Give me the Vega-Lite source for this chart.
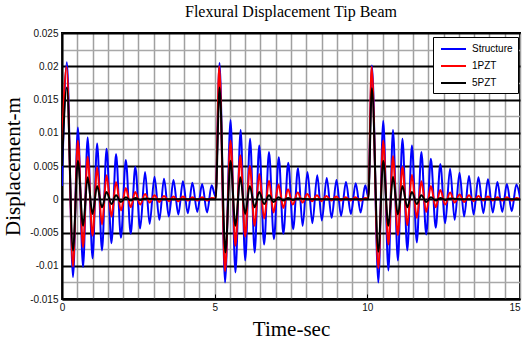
{
  "$schema": "https://vega.github.io/schema/vega-lite/v6.json",
  "width": 458,
  "height": 266,
  "autosize": {"type": "none"},
  "padding": {"left": 62, "top": 33, "right": 3, "bottom": 44},
  "background": "white",
  "title": {"text": "Flexural Displacement Tip Beam", "font": "Liberation Serif", "fontSize": 16, "fontWeight": "normal", "color": "black", "offset": 8, "anchor": "middle"},
  "config": {
    "view": {"stroke": "black", "strokeWidth": 2},
    "axis": {"labelFont": "Liberation Sans", "labelFontSize": 10, "labelColor": "#111", "titleFont": "Liberation Serif", "titleFontSize": 21, "titleFontWeight": "normal", "titleColor": "black", "labelFlush": false, "labelOverlap": false, "labelBound": false}
  },
  "data": {"values": [
    {"t":0.00,"v":0.0020,"s":"Structure"},{"t":0.16,"v":0.0206,"s":"Structure"},{"t":0.36,"v":-0.0117,"s":"Structure"},{"t":0.52,"v":0.0108,"s":"Structure"},{"t":0.69,"v":-0.0102,"s":"Structure"},{"t":0.84,"v":0.0093,"s":"Structure"},{"t":1.00,"v":-0.0089,"s":"Structure"},{"t":1.15,"v":0.0084,"s":"Structure"},{"t":1.31,"v":-0.0077,"s":"Structure"},{"t":1.46,"v":0.0076,"s":"Structure"},{"t":1.62,"v":-0.0066,"s":"Structure"},{"t":1.77,"v":0.0068,"s":"Structure"},{"t":1.93,"v":-0.0058,"s":"Structure"},{"t":2.09,"v":0.0059,"s":"Structure"},{"t":2.25,"v":-0.0052,"s":"Structure"},{"t":2.40,"v":0.0049,"s":"Structure"},{"t":2.56,"v":-0.0044,"s":"Structure"},{"t":2.72,"v":0.0041,"s":"Structure"},{"t":2.87,"v":-0.0037,"s":"Structure"},{"t":3.03,"v":0.0034,"s":"Structure"},{"t":3.19,"v":-0.0031,"s":"Structure"},{"t":3.34,"v":0.0031,"s":"Structure"},{"t":3.50,"v":-0.0026,"s":"Structure"},{"t":3.65,"v":0.0029,"s":"Structure"},{"t":3.81,"v":-0.0023,"s":"Structure"},{"t":3.96,"v":0.0027,"s":"Structure"},{"t":4.12,"v":-0.0021,"s":"Structure"},{"t":4.27,"v":0.0025,"s":"Structure"},{"t":4.43,"v":-0.0019,"s":"Structure"},{"t":4.59,"v":0.0023,"s":"Structure"},{"t":4.75,"v":-0.0020,"s":"Structure"},{"t":4.90,"v":0.0021,"s":"Structure"},{"t":5.03,"v":0.0004,"s":"Structure"},
    {"t":5.16,"v":0.0205,"s":"Structure"},{"t":5.34,"v":-0.0125,"s":"Structure"},{"t":5.52,"v":0.0119,"s":"Structure"},{"t":5.68,"v":-0.0110,"s":"Structure"},{"t":5.85,"v":0.0104,"s":"Structure"},{"t":6.00,"v":-0.0092,"s":"Structure"},{"t":6.16,"v":0.0091,"s":"Structure"},{"t":6.31,"v":-0.0080,"s":"Structure"},{"t":6.46,"v":0.0081,"s":"Structure"},{"t":6.62,"v":-0.0068,"s":"Structure"},{"t":6.78,"v":0.0071,"s":"Structure"},{"t":6.94,"v":-0.0060,"s":"Structure"},{"t":7.10,"v":0.0063,"s":"Structure"},{"t":7.25,"v":-0.0052,"s":"Structure"},{"t":7.41,"v":0.0055,"s":"Structure"},{"t":7.57,"v":-0.0045,"s":"Structure"},{"t":7.73,"v":0.0047,"s":"Structure"},{"t":7.88,"v":-0.0040,"s":"Structure"},{"t":8.04,"v":0.0041,"s":"Structure"},{"t":8.20,"v":-0.0036,"s":"Structure"},{"t":8.36,"v":0.0036,"s":"Structure"},{"t":8.51,"v":-0.0032,"s":"Structure"},{"t":8.67,"v":0.0032,"s":"Structure"},{"t":8.83,"v":-0.0028,"s":"Structure"},{"t":8.99,"v":0.0029,"s":"Structure"},{"t":9.14,"v":-0.0025,"s":"Structure"},{"t":9.30,"v":0.0026,"s":"Structure"},{"t":9.46,"v":-0.0022,"s":"Structure"},{"t":9.62,"v":0.0024,"s":"Structure"},{"t":9.78,"v":-0.0020,"s":"Structure"},{"t":9.93,"v":0.0021,"s":"Structure"},{"t":10.03,"v":0.0004,"s":"Structure"},
    {"t":10.15,"v":0.0201,"s":"Structure"},{"t":10.36,"v":-0.0125,"s":"Structure"},{"t":10.52,"v":0.0118,"s":"Structure"},{"t":10.69,"v":-0.0107,"s":"Structure"},{"t":10.84,"v":0.0104,"s":"Structure"},{"t":11.00,"v":-0.0092,"s":"Structure"},{"t":11.15,"v":0.0091,"s":"Structure"},{"t":11.31,"v":-0.0077,"s":"Structure"},{"t":11.46,"v":0.0081,"s":"Structure"},{"t":11.62,"v":-0.0065,"s":"Structure"},{"t":11.77,"v":0.0071,"s":"Structure"},{"t":11.93,"v":-0.0053,"s":"Structure"},{"t":12.08,"v":0.0061,"s":"Structure"},{"t":12.24,"v":-0.0043,"s":"Structure"},{"t":12.39,"v":0.0053,"s":"Structure"},{"t":12.55,"v":-0.0036,"s":"Structure"},{"t":12.71,"v":0.0046,"s":"Structure"},{"t":12.86,"v":-0.0031,"s":"Structure"},{"t":13.02,"v":0.0040,"s":"Structure"},{"t":13.17,"v":-0.0026,"s":"Structure"},{"t":13.33,"v":0.0035,"s":"Structure"},{"t":13.48,"v":-0.0023,"s":"Structure"},{"t":13.64,"v":0.0033,"s":"Structure"},{"t":13.80,"v":-0.0021,"s":"Structure"},{"t":13.95,"v":0.0030,"s":"Structure"},{"t":14.11,"v":-0.0020,"s":"Structure"},{"t":14.26,"v":0.0026,"s":"Structure"},{"t":14.42,"v":-0.0019,"s":"Structure"},{"t":14.57,"v":0.0023,"s":"Structure"},{"t":14.73,"v":-0.0018,"s":"Structure"},{"t":14.88,"v":0.0022,"s":"Structure"},{"t":15.00,"v":0.0003,"s":"Structure"},
    {"t":0.00,"v":0.0080,"s":"1PZT"},{"t":0.15,"v":0.0199,"s":"1PZT"},{"t":0.36,"v":-0.0101,"s":"1PZT"},{"t":0.52,"v":0.0088,"s":"1PZT"},{"t":0.69,"v":-0.0072,"s":"1PZT"},{"t":0.84,"v":0.0064,"s":"1PZT"},{"t":1.00,"v":-0.0055,"s":"1PZT"},{"t":1.15,"v":0.0048,"s":"1PZT"},{"t":1.31,"v":-0.0038,"s":"1PZT"},{"t":1.46,"v":0.0036,"s":"1PZT"},{"t":1.62,"v":-0.0026,"s":"1PZT"},{"t":1.77,"v":0.0026,"s":"1PZT"},{"t":1.93,"v":-0.0017,"s":"1PZT"},{"t":2.09,"v":0.0017,"s":"1PZT"},{"t":2.25,"v":-0.0012,"s":"1PZT"},{"t":2.40,"v":0.0011,"s":"1PZT"},{"t":2.56,"v":-0.0008,"s":"1PZT"},{"t":2.72,"v":0.0008,"s":"1PZT"},{"t":2.87,"v":-0.0005,"s":"1PZT"},{"t":3.03,"v":0.0006,"s":"1PZT"},{"t":3.19,"v":-0.0004,"s":"1PZT"},{"t":3.34,"v":0.0005,"s":"1PZT"},{"t":3.50,"v":-0.0003,"s":"1PZT"},{"t":3.65,"v":0.0004,"s":"1PZT"},{"t":3.81,"v":-0.0003,"s":"1PZT"},{"t":3.96,"v":0.0004,"s":"1PZT"},{"t":4.12,"v":-0.0002,"s":"1PZT"},{"t":4.27,"v":0.0003,"s":"1PZT"},{"t":4.43,"v":-0.0002,"s":"1PZT"},{"t":4.59,"v":0.0003,"s":"1PZT"},{"t":4.75,"v":-0.0002,"s":"1PZT"},{"t":4.90,"v":0.0002,"s":"1PZT"},{"t":5.03,"v":0.0001,"s":"1PZT"},
    {"t":5.15,"v":0.0200,"s":"1PZT"},{"t":5.34,"v":-0.0108,"s":"1PZT"},{"t":5.52,"v":0.0088,"s":"1PZT"},{"t":5.68,"v":-0.0070,"s":"1PZT"},{"t":5.84,"v":0.0066,"s":"1PZT"},{"t":6.00,"v":-0.0056,"s":"1PZT"},{"t":6.15,"v":0.0050,"s":"1PZT"},{"t":6.31,"v":-0.0040,"s":"1PZT"},{"t":6.46,"v":0.0038,"s":"1PZT"},{"t":6.62,"v":-0.0029,"s":"1PZT"},{"t":6.78,"v":0.0028,"s":"1PZT"},{"t":6.93,"v":-0.0020,"s":"1PZT"},{"t":7.09,"v":0.0022,"s":"1PZT"},{"t":7.25,"v":-0.0013,"s":"1PZT"},{"t":7.40,"v":0.0015,"s":"1PZT"},{"t":7.56,"v":-0.0008,"s":"1PZT"},{"t":7.72,"v":0.0010,"s":"1PZT"},{"t":7.88,"v":-0.0005,"s":"1PZT"},{"t":8.03,"v":0.0008,"s":"1PZT"},{"t":8.19,"v":-0.0003,"s":"1PZT"},{"t":8.35,"v":0.0006,"s":"1PZT"},{"t":8.50,"v":-0.0003,"s":"1PZT"},{"t":8.66,"v":0.0005,"s":"1PZT"},{"t":8.82,"v":-0.0002,"s":"1PZT"},{"t":8.98,"v":0.0004,"s":"1PZT"},{"t":9.13,"v":-0.0002,"s":"1PZT"},{"t":9.29,"v":0.0003,"s":"1PZT"},{"t":9.45,"v":-0.0002,"s":"1PZT"},{"t":9.61,"v":0.0003,"s":"1PZT"},{"t":9.77,"v":-0.0002,"s":"1PZT"},{"t":9.92,"v":0.0002,"s":"1PZT"},{"t":10.03,"v":0.0001,"s":"1PZT"},
    {"t":10.14,"v":0.0199,"s":"1PZT"},{"t":10.36,"v":-0.0104,"s":"1PZT"},{"t":10.52,"v":0.0088,"s":"1PZT"},{"t":10.69,"v":-0.0068,"s":"1PZT"},{"t":10.84,"v":0.0065,"s":"1PZT"},{"t":11.00,"v":-0.0054,"s":"1PZT"},{"t":11.15,"v":0.0049,"s":"1PZT"},{"t":11.31,"v":-0.0039,"s":"1PZT"},{"t":11.46,"v":0.0037,"s":"1PZT"},{"t":11.62,"v":-0.0028,"s":"1PZT"},{"t":11.77,"v":0.0027,"s":"1PZT"},{"t":11.93,"v":-0.0019,"s":"1PZT"},{"t":12.08,"v":0.0020,"s":"1PZT"},{"t":12.24,"v":-0.0012,"s":"1PZT"},{"t":12.39,"v":0.0014,"s":"1PZT"},{"t":12.55,"v":-0.0008,"s":"1PZT"},{"t":12.71,"v":0.0010,"s":"1PZT"},{"t":12.86,"v":-0.0005,"s":"1PZT"},{"t":13.02,"v":0.0007,"s":"1PZT"},{"t":13.17,"v":-0.0004,"s":"1PZT"},{"t":13.33,"v":0.0006,"s":"1PZT"},{"t":13.48,"v":-0.0003,"s":"1PZT"},{"t":13.64,"v":0.0005,"s":"1PZT"},{"t":13.80,"v":-0.0002,"s":"1PZT"},{"t":13.95,"v":0.0004,"s":"1PZT"},{"t":14.11,"v":-0.0002,"s":"1PZT"},{"t":14.26,"v":0.0003,"s":"1PZT"},{"t":14.42,"v":-0.0002,"s":"1PZT"},{"t":14.57,"v":0.0003,"s":"1PZT"},{"t":14.73,"v":-0.0002,"s":"1PZT"},{"t":14.88,"v":0.0002,"s":"1PZT"},{"t":15.00,"v":0.0000,"s":"1PZT"},
    {"t":0.00,"v":0.0050,"s":"5PZT"},{"t":0.16,"v":0.0168,"s":"5PZT"},{"t":0.36,"v":-0.0077,"s":"5PZT"},{"t":0.52,"v":0.0058,"s":"5PZT"},{"t":0.69,"v":-0.0040,"s":"5PZT"},{"t":0.84,"v":0.0033,"s":"5PZT"},{"t":1.00,"v":-0.0022,"s":"5PZT"},{"t":1.15,"v":0.0020,"s":"5PZT"},{"t":1.31,"v":-0.0012,"s":"5PZT"},{"t":1.46,"v":0.0011,"s":"5PZT"},{"t":1.62,"v":-0.0007,"s":"5PZT"},{"t":1.77,"v":0.0006,"s":"5PZT"},{"t":1.93,"v":-0.0004,"s":"5PZT"},{"t":2.09,"v":0.0003,"s":"5PZT"},{"t":2.25,"v":-0.0002,"s":"5PZT"},{"t":2.40,"v":0.0002,"s":"5PZT"},{"t":2.56,"v":-0.0001,"s":"5PZT"},{"t":2.72,"v":0.0001,"s":"5PZT"},{"t":3.20,"v":0.0000,"s":"5PZT"},{"t":4.00,"v":0.0000,"s":"5PZT"},{"t":5.03,"v":0.0000,"s":"5PZT"},
    {"t":5.16,"v":0.0168,"s":"5PZT"},{"t":5.35,"v":-0.0080,"s":"5PZT"},{"t":5.52,"v":0.0058,"s":"5PZT"},{"t":5.68,"v":-0.0040,"s":"5PZT"},{"t":5.84,"v":0.0033,"s":"5PZT"},{"t":6.00,"v":-0.0022,"s":"5PZT"},{"t":6.15,"v":0.0020,"s":"5PZT"},{"t":6.31,"v":-0.0012,"s":"5PZT"},{"t":6.46,"v":0.0011,"s":"5PZT"},{"t":6.62,"v":-0.0007,"s":"5PZT"},{"t":6.78,"v":0.0006,"s":"5PZT"},{"t":6.93,"v":-0.0004,"s":"5PZT"},{"t":7.09,"v":0.0003,"s":"5PZT"},{"t":7.25,"v":-0.0002,"s":"5PZT"},{"t":7.40,"v":0.0002,"s":"5PZT"},{"t":7.56,"v":-0.0001,"s":"5PZT"},{"t":7.72,"v":0.0001,"s":"5PZT"},{"t":8.20,"v":0.0000,"s":"5PZT"},{"t":9.00,"v":0.0000,"s":"5PZT"},{"t":10.03,"v":0.0000,"s":"5PZT"},
    {"t":10.15,"v":0.0167,"s":"5PZT"},{"t":10.36,"v":-0.0079,"s":"5PZT"},{"t":10.52,"v":0.0058,"s":"5PZT"},{"t":10.69,"v":-0.0040,"s":"5PZT"},{"t":10.84,"v":0.0034,"s":"5PZT"},{"t":11.00,"v":-0.0023,"s":"5PZT"},{"t":11.15,"v":0.0020,"s":"5PZT"},{"t":11.31,"v":-0.0012,"s":"5PZT"},{"t":11.46,"v":0.0011,"s":"5PZT"},{"t":11.62,"v":-0.0007,"s":"5PZT"},{"t":11.77,"v":0.0006,"s":"5PZT"},{"t":11.93,"v":-0.0004,"s":"5PZT"},{"t":12.08,"v":0.0003,"s":"5PZT"},{"t":12.24,"v":-0.0002,"s":"5PZT"},{"t":12.39,"v":0.0002,"s":"5PZT"},{"t":12.55,"v":-0.0001,"s":"5PZT"},{"t":12.71,"v":0.0001,"s":"5PZT"},{"t":13.20,"v":0.0000,"s":"5PZT"},{"t":14.00,"v":0.0000,"s":"5PZT"},{"t":15.00,"v":0.0000,"s":"5PZT"}
  ]},
  "mark": {"type": "line", "interpolate": "monotone", "strokeWidth": 2, "clip": true},
  "encoding": {
    "x": {"field": "t", "type": "quantitative", "scale": {"domain": [0, 15], "nice": false, "zero": false},
      "axis": {"title": "Time-sec", "titlePadding": 6, "values": [0,0.5,1,1.5,2,2.5,3,3.5,4,4.5,5,5.5,6,6.5,7,7.5,8,8.5,9,9.5,10,10.5,11,11.5,12,12.5,13,13.5,14,14.5,15],
        "labelExpr": "datum.value % 5 == 0 ? '' + datum.value : ''",
        "labelAlign": {"condition": {"test": "datum.value == 15", "value": "right"}, "value": "center"},
        "grid": true, "gridColor": "#a0a0a0", "gridWidth": 1.5,
        "domain": true, "domainColor": "black", "domainWidth": 2,
        "tickColor": "black", "tickSize": -5, "tickWidth": 1,
        "tickOpacity": {"condition": {"test": "datum.value == 5 || datum.value == 10", "value": 1}, "value": 0},
        "labelPadding": 8}},
    "y": {"field": "v", "type": "quantitative", "scale": {"domain": [-0.015, 0.025], "nice": false, "zero": false},
      "axis": {"title": "Displacement-m", "titlePadding": 6, "values": [-0.015,-0.0125,-0.01,-0.0075,-0.005,-0.0025,0,0.0025,0.005,0.0075,0.01,0.0125,0.015,0.0175,0.02,0.0225,0.025],
        "labelExpr": "abs(round(datum.value*200) - datum.value*200) < 0.001 ? '' + datum.value : ''",
        "grid": true,
        "gridColor": {"condition": {"test": "abs(round(datum.value*200) - datum.value*200) < 0.001", "value": "black"}, "value": "#a8a8a8"},
        "gridWidth": {"condition": {"test": "abs(round(datum.value*200) - datum.value*200) < 0.001", "value": 2}, "value": 1.5},
        "domain": true, "domainColor": "black", "domainWidth": 2,
        "ticks": false, "labelPadding": 4}},
    "color": {"field": "s", "type": "nominal", "sort": ["Structure", "1PZT", "5PZT"],
      "scale": {"domain": ["Structure", "1PZT", "5PZT"], "range": ["#0000ff", "#ff0000", "#000000"]},
      "legend": {"title": null, "orient": "none", "legendX": 371, "legendY": 4, "fillColor": "white", "strokeColor": "black", "padding": 5, "symbolType": "M-0.67,0L3.5,0", "symbolSize": 144, "symbolStrokeWidth": 2, "labelFont": "Liberation Sans", "labelFontSize": 10, "labelColor": "black", "labelOffset": 20, "rowPadding": 5, "cornerRadius": 0}}
  }
}
